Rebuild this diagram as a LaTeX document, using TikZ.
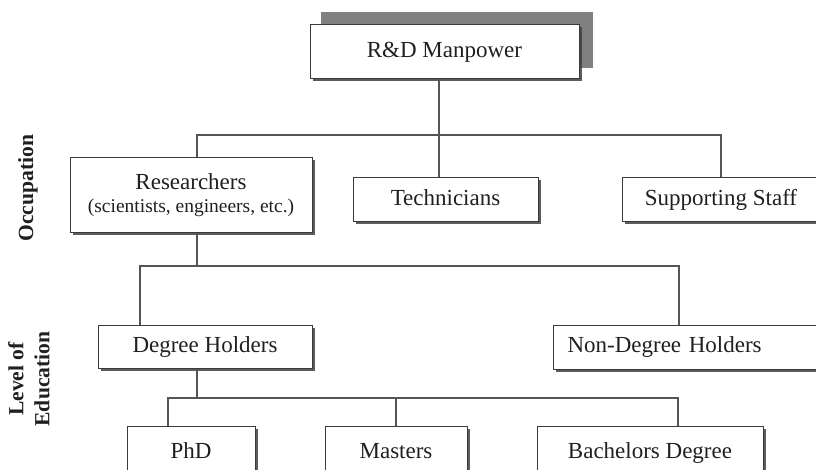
\documentclass[tikz,border=0pt]{standalone}
\usepackage{fontspec}
\setmainfont{Liberation Serif}
\usetikzlibrary{shadows}
\definecolor{linegray}{HTML}{555555}
\definecolor{boxline}{HTML}{3A3A3A}
\definecolor{bigshadow}{HTML}{808080}
\definecolor{txt}{HTML}{202020}
\tikzset{
  orgbox/.style={draw=boxline, fill=white, line width=1pt, text=txt,
    font=\fontsize{23}{26}\selectfont, align=center, inner sep=0pt,
    drop shadow={shadow xshift=2.5pt, shadow yshift=-2.5pt, fill=black!75, opacity=0.85}},
  oneline/.style={orgbox, text height=16pt, text depth=5pt},
  conn/.style={draw=linegray, line width=1.2pt},
  sidelabel/.style={rotate=90, text=txt, font=\fontsize{21.6}{26}\selectfont\bfseries, align=center}
}
\begin{document}
\begin{tikzpicture}[x=1pt,y=-1pt]
\useasboundingbox (0,0) rectangle (816,470);
\clip (0,0) rectangle (816,470);
\fill[white] (0,0) rectangle (816,470);
% big shadow of top box
\fill[bigshadow] (321,12) rectangle (593,68);
\node[oneline, drop shadow={opacity=0}, minimum width=269pt, minimum height=54pt] (rd) at (444.5,52) {R\&D Manpower};
\node[orgbox, minimum width=242pt, minimum height=75pt, font=\fontsize{23}{24}\selectfont] (res) at (191,195.5)
  {Researchers\\[-1pt]{\fontsize{19.5}{22}\selectfont (scientists, engineers, etc.)}};
\node[oneline, minimum width=185pt, minimum height=44pt] (tech) at (445.5,200) {Technicians};
\node[oneline, minimum width=198pt, minimum height=44pt] (supp) at (721,200) {Supporting Staff};
\node[oneline, minimum width=214pt, minimum height=43pt] (deg) at (205,346.5) {Degree Holders};
\node[oneline, anchor=west, text width=250pt, align=left, inner xsep=14pt, minimum height=44pt] (nondeg) at (553,347) {Non-Degree Holders};
\node[oneline, minimum width=128pt, minimum height=53pt] (phd) at (191,452.5) {PhD};
\node[oneline, minimum width=142pt, minimum height=53pt] (mast) at (396,452.5) {Masters};
\node[oneline, minimum width=226pt, minimum height=53pt] (bach) at (650,452.5) {Bachelors Degree};
% side labels
\node[sidelabel] (occ) at (28,188) {Occupation};
\node[sidelabel] (edu) at (29,379) {Level of\\Education};
% junction coordinates
\coordinate (j1) at (439,135);
\coordinate (b1l) at (197,135);
\coordinate (b1r) at (721,135);
\coordinate (r2) at (197,266);
\coordinate (b2l) at (140,266);
\coordinate (b2r) at (679,266);
\coordinate (d3) at (197,398);
\coordinate (b3l) at (168,398);
\coordinate (b3r) at (678,398);
\coordinate (m3) at (396,398);
% connectors
\draw[conn] (rd.south -| j1) -- (j1);
\draw[conn] (res.north -| b1l) -- (b1l) -- (b1r) -- (supp.north -| b1r);
\draw[conn] (j1) -- (tech.north -| j1);
\draw[conn] (res.south -| r2) -- (r2);
\draw[conn] (deg.north -| b2l) -- (b2l) -- (b2r) -- (nondeg.north -| b2r);
\draw[conn] (deg.south -| d3) -- (d3);
\draw[conn] (phd.north -| b3l) -- (b3l) -- (b3r) -- (bach.north -| b3r);
\draw[conn] (m3) -- (mast.north -| m3);
\end{tikzpicture}
\end{document}
